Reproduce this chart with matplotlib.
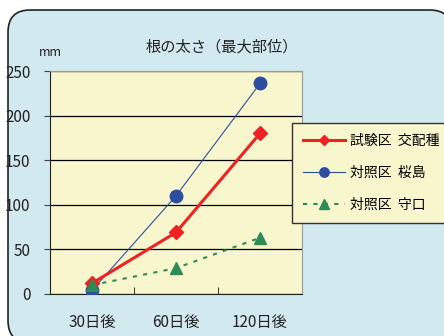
import matplotlib
matplotlib.use('Agg')
import matplotlib.pyplot as plt
from matplotlib.patches import FancyBboxPatch

plt.rcParams['font.family'] = ['Noto Sans CJK JP', 'DejaVu Sans']

days = ['30日後', '60日後', '120日後']
hybrid = [12, 69, 180]
sakurajima = [4, 110, 236]
moriguchi = [10, 29, 63]
labels = ['試験区  交配種', '対照区  桜島', '対照区  守口']

fig = plt.figure(figsize=(4.44, 3.36), dpi=100)
fig.patch.set_facecolor('white')
bg = FancyBboxPatch((8/444, -0.02), 1.0, 1 - 10/336 + 0.02, boxstyle='round,pad=0,rounding_size=0.05',
                    transform=fig.transFigure, facecolor='#D2E9EF', edgecolor='#222222',
                    linewidth=1.2, mutation_aspect=444/336, zorder=-5)
fig.patches.append(bg)

ax = fig.add_axes([50/444, 1 - 294/336, 252/444, 223/336])
ax.set_zorder(2)
ax.set_facecolor('#F8F6CC')
x = range(len(days))
ax.plot(x, hybrid, color='#EE2222', lw=2.2, marker='D', ms=7, label=labels[0], zorder=4)
ax.plot(x, sakurajima, color='#2D4EA0', lw=0.8, marker='o', ms=9, label=labels[1], zorder=3)
ax.plot(x, moriguchi, color='#2E8B57', lw=1.5, ls=(0, (2, 3)), marker='^', ms=9, label=labels[2], zorder=5)

ax.set_xlim(-0.5, 2.5)
ax.set_ylim(0, 250)
ax.set_yticks([0, 50, 100, 150, 200, 250])
ax.yaxis.grid(True, color='black', lw=0.9)
ax.set_axisbelow(True)
ax.set_xticks([0.5, 1.5])
ax.set_xticklabels([])
ax.tick_params(axis='x', direction='in', length=5, color='#444444')
ax.tick_params(axis='y', length=4, labelsize=11, color='#444444', labelcolor='#222222', pad=10)
for i, d in enumerate(days):
    ax.text(i, -22, d, ha='center', va='top', fontsize=11, color='#222222')
for s in ['top', 'right']:
    ax.spines[s].set_color('#999999')
ax.spines['left'].set_color('#222222')
ax.spines['bottom'].set_color('#222222')

fig.text(222/444, 1 - 47/336, '根の太さ（最大部位）', ha='center', va='center', fontsize=11, color='#222222')
fig.text(50/444, 1 - 52/336, 'mm', ha='center', va='center', fontsize=9, color='#222222')

leg = ax.legend(loc='upper left', bbox_to_anchor=(292/444, 1 - 123/336), bbox_transform=fig.transFigure,
                fontsize=10, frameon=True, fancybox=False, handlelength=3.0, labelspacing=1.3,
                borderpad=0.8, handletextpad=0.4, markerscale=0.75, borderaxespad=0)
leg.get_frame().set_facecolor('#F8F6CC')
leg.get_frame().set_edgecolor('#333333')
leg.get_frame().set_linewidth(1.0)
leg.get_frame().set_alpha(1)

fig.savefig('out.png', dpi=100)
